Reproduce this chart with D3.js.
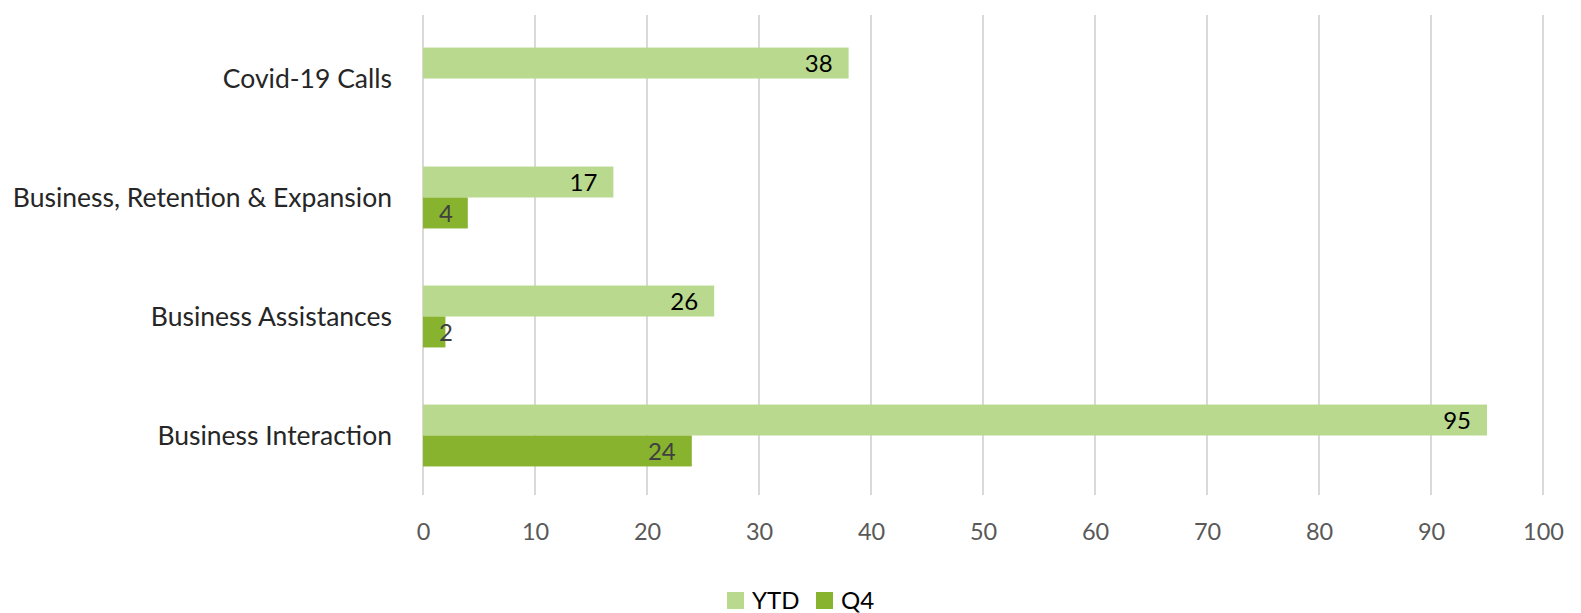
<!DOCTYPE html>
<html>
<head>
<meta charset="utf-8">
<script src="https://cdn.jsdelivr.net/npm/d3@7"></script>
<style>
  body { margin: 0; background: #fff; }
  text { font-family: Lato, "Open Sans", sans-serif; }
</style>
</head>
<body>
<script>
//chart values
var categories = ['Covid-19 Calls', 'Business, Retention & Expansion', 'Business Assistances', 'Business Interaction'];
var ytdValues = [38, 17, 26, 95];
var q4Values = [null, 4, 2, 24];
var seriesNames = ['YTD', 'Q4'];
var seriesColors = ['#b9d98f', '#88b32e'];
var xTicks = [0, 10, 20, 30, 40, 50, 60, 70, 80, 90, 100];

window.onload = drawChart();

function drawChart(){

    var width = 1581,
        height = 613;

    var svg = d3.select('body')
        .append('svg')
        .attr('width', width)
        .attr('height', height);

    var x = d3.scaleLinear()
        .domain([0, 100])
        .range([423, 1543]);

    var y = d3.scaleBand()
        .domain(categories)
        .range([19, 495])
        .paddingInner(0.48)
        .paddingOuter(0.24);

    var ySub = d3.scaleBand()
        .domain(seriesNames)
        .range([0, y.bandwidth()]);

    //vertical gridlines
    svg.append('g')
        .selectAll('line')
        .data(xTicks)
        .enter()
        .append('line')
        .attr('x1', function(d){ return x(d); })
        .attr('x2', function(d){ return x(d); })
        .attr('y1', 15)
        .attr('y2', 495)
        .attr('stroke', '#d9d9d9')
        .attr('stroke-width', 2);

    //x axis tick labels
    var xAxis = d3.axisBottom(x)
        .tickValues(xTicks)
        .tickSize(0)
        .tickPadding(0);

    var xg = svg.append('g')
        .attr('transform', 'translate(0,523)')
        .call(xAxis);
    xg.select('.domain').remove();
    xg.selectAll('text')
        .attr('fill', '#595959')
        .style('font-size', '23.5px')
        .style('font-family', 'Lato, "Open Sans", sans-serif');

    //category labels
    svg.append('g')
        .selectAll('text')
        .data(categories)
        .enter()
        .append('text')
        .attr('x', 392)
        .attr('y', function(d){ return y(d) + y.bandwidth() / 2; })
        .attr('dy', '0.35em')
        .attr('text-anchor', 'end')
        .attr('fill', '#262626')
        .style('font-size', '26.5px')
        .text(function(d){ return d; });

    var series = [ytdValues, q4Values];
    var labelColors = ['#000000', '#404040'];

    series.forEach(function(values, s){
        var rows = categories.map(function(c, i){ return {cat: c, v: values[i]}; })
            .filter(function(d){ return d.v !== null; });

        svg.append('g')
            .selectAll('rect')
            .data(rows)
            .enter()
            .append('rect')
            .attr('x', x(0))
            .attr('y', function(d){ return y(d.cat) + ySub(seriesNames[s]); })
            .attr('width', function(d){ return x(d.v) - x(0); })
            .attr('height', ySub.bandwidth())
            .attr('fill', seriesColors[s]);

        svg.append('g')
            .selectAll('text')
            .data(rows)
            .enter()
            .append('text')
            .attr('x', function(d){ return Math.max(x(d.v) - 16, x(0) + 30); })
            .attr('y', function(d){ return y(d.cat) + ySub(seriesNames[s]) + ySub.bandwidth() / 2; })
            .attr('dy', '0.36em')
            .attr('text-anchor', 'end')
            .attr('fill', labelColors[s])
            .style('font-size', '24px')
            .text(function(d){ return d.v; });
    });

    //legend
    var legend = svg.append('g')
        .attr('transform', 'translate(727,592)');

    var legendX = [0, 89];
    seriesNames.forEach(function(name, s){
        legend.append('rect')
            .attr('x', legendX[s])
            .attr('y', 0)
            .attr('width', 17)
            .attr('height', 17)
            .attr('fill', seriesColors[s]);
        legend.append('text')
            .attr('x', legendX[s] + 25)
            .attr('y', 8.5)
            .attr('dy', '0.36em')
            .attr('fill', '#000')
            .style('font-size', '24px')
            .text(name);
    });
}
</script>
</body>
</html>
